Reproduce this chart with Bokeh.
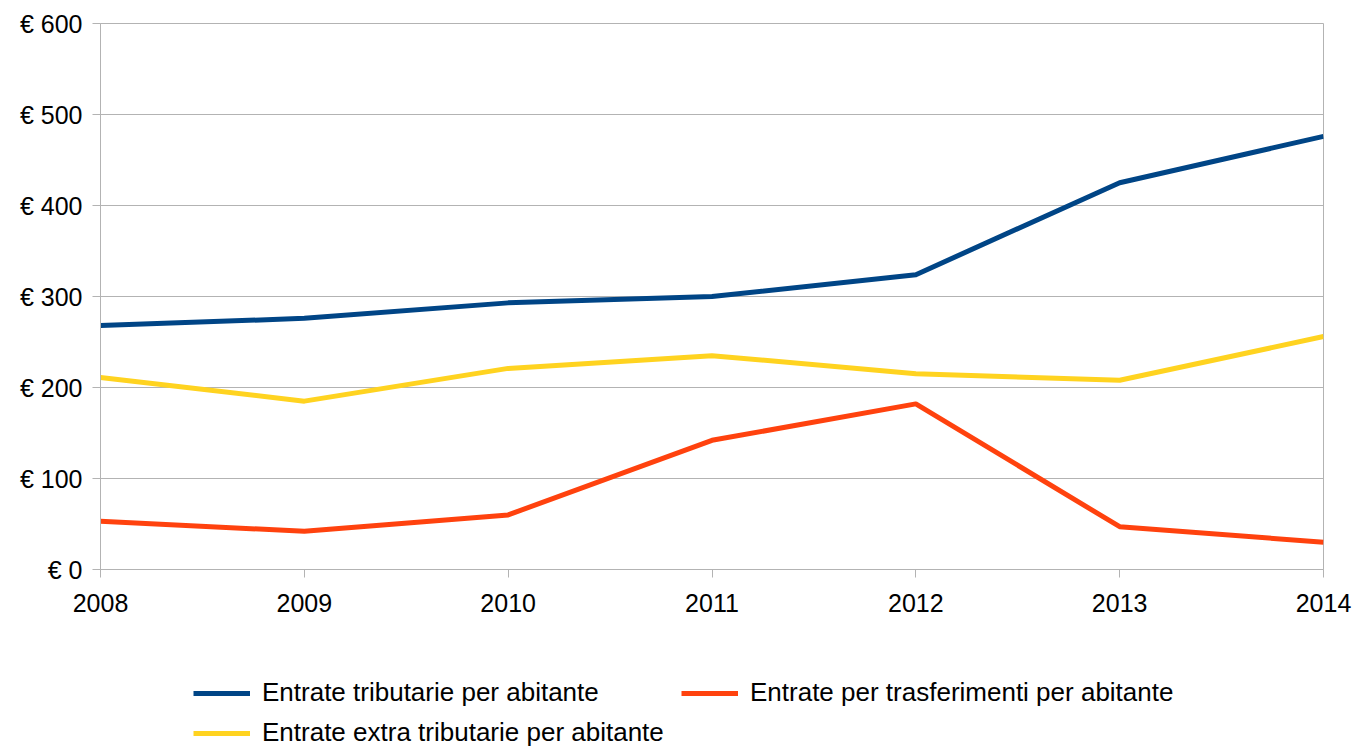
from bokeh.plotting import figure
from bokeh.layouts import column
from bokeh.models import Range1d, Legend, LegendItem, PrintfTickFormatter, FixedTicker
from bokeh.embed import file_html
from bokeh.resources import INLINE

years = [2008, 2009, 2010, 2011, 2012, 2013, 2014]
tributarie = [268, 276, 293, 300, 324, 425, 476]
trasferimenti = [53, 42, 60, 142, 182, 47, 30]
extra_tributarie = [211, 185, 221, 235, 215, 208, 256]
y_ticks = [0, 100, 200, 300, 400, 500, 600]

names = ["Entrate tributarie per abitante",
         "Entrate per trasferimenti per abitante",
         "Entrate extra tributarie per abitante"]
colors = ["#004586", "#ff420e", "#ffd320"]
series = [tributarie, trasferimenti, extra_tributarie]

FONT = "Liberation Sans"
GRID = "#b3b3b3"

p = figure(width=1357, height=640, output_backend="svg", toolbar_location=None,
           x_range=Range1d(2008, 2014), y_range=Range1d(0, 600),
           min_border_left=100, min_border_right=34, min_border_top=23, min_border_bottom=71)
p.background_fill_color = "white"
p.border_fill_color = "white"
p.outline_line_color = GRID
p.outline_line_width = 1

for ax in (p.xaxis[0], p.yaxis[0]):
    ax.axis_line_color = GRID
    ax.major_tick_line_color = GRID
    ax.major_tick_in = 0
    ax.major_tick_out = 8
    ax.minor_tick_line_color = None
    ax.major_label_text_font = FONT
    ax.major_label_text_font_size = "25px"
    ax.major_label_text_color = "black"

p.xaxis.ticker = FixedTicker(ticks=years)
p.xaxis.major_label_standoff = 16
p.yaxis.ticker = FixedTicker(ticks=y_ticks)
p.yaxis.formatter = PrintfTickFormatter(format="€ %d")
p.yaxis.major_label_standoff = 10

p.xgrid.grid_line_color = None
p.ygrid.grid_line_color = GRID
p.ygrid.grid_line_width = 1

for vals, c in zip(series, colors):
    p.line(years, vals, line_color=c, line_width=5, line_join="round")

# legend panel below the chart (its series lie outside its visible range)
lg = figure(width=1357, height=108, output_backend="svg", toolbar_location=None,
            x_range=Range1d(0, 1), y_range=Range1d(0, 1),
            x_axis_location=None, y_axis_location=None,
            min_border_left=100, min_border_right=34, min_border_top=0, min_border_bottom=0)
lg.xgrid.grid_line_color = None
lg.ygrid.grid_line_color = None
lg.outline_line_color = None
lg.background_fill_color = "white"
lg.border_fill_color = "white"

items = []
for n, c, vals in zip(names, colors, series):
    r = lg.line(years, vals, line_color=c, line_width=5)
    items.append(LegendItem(label=n, renderers=[r]))

legend = Legend(items=items, location=(93, 0), orientation="horizontal", ncols=2,
                padding=0, margin=0, spacing=9, glyph_width=57, glyph_height=30,
                label_height=30, label_standoff=12, label_width=410,
                label_text_font=FONT, label_text_font_size="26px",
                label_text_color="black",
                border_line_color=None, background_fill_alpha=0)
lg.add_layout(legend, "center")

layout = column(p, lg, spacing=0)
open("out.html", "w").write(file_html(layout, INLINE))
